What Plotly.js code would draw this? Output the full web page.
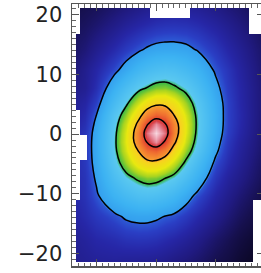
<!DOCTYPE html>
<html><head><meta charset="utf-8">
<script src="https://cdn.plot.ly/plotly-3.0.1.min.js"></script>
<style>html,body{margin:0;padding:0;overflow:hidden;background:#fff}#chart{width:268px;height:273px}</style>
</head><body><div id="chart"></div>
<script>
// grid coordinates
const xVals = [-14,-12,-10,-7,-5,-3,-1.5,0,1.5,3,5,7,10,12,14,18];
const yVals = [-22.3,-17.8,-13.8,-10.3,-7.3,-4.8,-2.8,-1.3,0.2,1.7,3.2,5.2,7.7,10.7,14.2,18.2,21.7];
// surface-brightness level (contour units), rows bottom -> top
const zRow01 = [0.40,0.43,0.45,0.45,0.40,0.38,0.37,0.35,0.31,0.25,0.19,0.11,-0.05,-0.13,-0.25,-0.40];
const zRow02 = [0.45,0.52,0.60,0.66,0.72,0.74,0.73,0.70,0.64,0.58,0.48,0.36,0.15,0.03,-0.10,-0.30];
const zRow03 = [0.55,0.66,0.78,0.93,1.05,1.10,1.10,1.06,0.99,0.94,0.80,0.63,0.40,0.24,0.08,-0.15];
const zRow04 = [0.60,0.73,0.95,1.32,1.50,1.64,1.67,1.63,1.54,1.41,1.16,0.91,0.57,0.39,0.22,-0.05];
const zRow05 = [0.62,0.75,1.05,1.60,1.89,2.07,2.17,2.15,2.02,1.89,1.60,1.26,0.75,0.52,0.36,0.05];
const zRow06 = [0.63,0.78,1.12,1.81,2.22,2.64,2.84,2.85,2.67,2.37,1.93,1.53,0.92,0.65,0.45,0.10];
const zRow07 = [0.63,0.78,1.15,1.90,2.42,3.00,3.50,3.64,3.31,2.78,2.20,1.75,1.07,0.73,0.50,0.15];
const zRow08 = [0.62,0.78,1.15,1.92,2.49,3.28,4.05,4.49,3.93,3.11,2.37,1.84,1.15,0.78,0.54,0.17];
const zRow09 = [0.59,0.76,1.13,1.90,2.47,3.32,4.36,4.85,4.36,3.32,2.47,1.90,1.21,0.84,0.59,0.19];
const zRow10 = [0.54,0.70,1.08,1.84,2.37,3.11,3.93,4.49,4.05,3.28,2.49,1.92,1.24,0.86,0.62,0.20];
const zRow11 = [0.50,0.65,1.00,1.75,2.20,2.78,3.31,3.64,3.50,3.00,2.42,1.90,1.25,0.86,0.63,0.21];
const zRow12 = [0.45,0.57,0.85,1.53,1.93,2.37,2.67,2.85,2.84,2.64,2.22,1.81,1.21,0.86,0.61,0.22];
const zRow13 = [0.36,0.44,0.68,1.26,1.60,1.89,2.02,2.15,2.17,2.07,1.89,1.60,1.10,0.81,0.59,0.22];
const zRow14 = [0.24,0.41,0.59,0.91,1.16,1.41,1.54,1.63,1.67,1.64,1.50,1.32,0.95,0.75,0.54,0.19];
const zRow15 = [0.12,0.24,0.40,0.63,0.80,0.94,1.04,1.10,1.12,1.12,1.08,0.97,0.76,0.59,0.44,0.15];
const zRow16 = [0.05,0.10,0.19,0.36,0.48,0.58,0.64,0.70,0.73,0.74,0.72,0.66,0.52,0.41,0.29,0.06];
const zRow17 = [-0.05,0.00,0.04,0.16,0.24,0.32,0.38,0.42,0.45,0.46,0.45,0.42,0.32,0.23,0.16,-0.02];
const contourLevels = {start:1, end:4, size:1};

// blank (no data) areas of the map
const maskXEdges = [-14.1,-13.5,-12.7,-11.6,-1.0,5.7,15.6,16.3,18.1];
const maskYEdges = [-22.1,-21.4,-20.1,-11.0,-4.4,-0.2,4.0,16.8,19.5,21.1,21.8];
const maskRow01 = [1,1,1,1,1,1,1,1];
const maskRow02 = [1,null,null,null,null,null,null,1];
const maskRow03 = [1,null,null,null,null,null,null,1];
const maskRow04 = [1,1,null,null,null,null,null,null];
const maskRow05 = [1,1,1,null,null,null,null,null];
const maskRow06 = [1,1,null,null,null,null,null,null];
const maskRow07 = [1,null,null,null,null,null,null,null];
const maskRow08 = [1,1,null,null,null,null,1,1];
const maskRow09 = [1,1,null,null,1,null,1,1];
const maskRow10 = [1,1,1,1,1,1,1,1];

const zGrid = [zRow01,zRow02,zRow03,zRow04,zRow05,zRow06,zRow07,zRow08,zRow09,zRow10,zRow11,zRow12,zRow13,zRow14,zRow15,zRow16,zRow17];
const maskGrid = [maskRow01,maskRow02,maskRow03,maskRow04,maskRow05,maskRow06,maskRow07,maskRow08,maskRow09,maskRow10];

const zmin=-0.4, zmax=4.9;
const stops = [[-0.4,'#08051a'],[0.0,'#16104e'],[0.3,'#201a80'],[0.6,'#2626a6'],[0.85,'#2a3ec4'],[0.98,'#2c58d4'],[1.02,'#34a0ee'],[1.3,'#3cb2f2'],[1.9,'#5ac8f0'],[2.0,'#38b848'],[2.25,'#a8d420'],[2.5,'#e8e810'],[2.9,'#f8d020'],[3.0,'#f8a030'],[3.5,'#f07030'],[3.95,'#e04030'],[4.15,'#d84048'],[4.5,'#e890a0'],[4.9,'#fae0e8']];
const cscale = stops.map(s=>[(s[0]-zmin)/(zmax-zmin), s[1]]);

const heat = {type:'heatmap', x:xVals, y:yVals, z:zGrid, zsmooth:'best', colorscale:cscale, zmin:zmin, zmax:zmax, showscale:false, hoverinfo:'skip'};
const lines = {type:'contour', x:xVals, y:yVals, z:zGrid, autocontour:false, contours:Object.assign({coloring:'none'}, contourLevels), line:{color:'#000', width:1.5, smoothing:1.3}, showscale:false, hoverinfo:'skip'};
const mask = {type:'heatmap', x:maskXEdges, y:maskYEdges, z:maskGrid, zsmooth:false, colorscale:[[0,'#ffffff'],[1,'#ffffff']], zmin:0, zmax:1, showscale:false, hoverinfo:'skip'};

const axCommon = {showgrid:false, zeroline:false, showline:true, linecolor:'#555', linewidth:1.5, mirror:'allticks', ticks:'inside', ticklen:7, tickcolor:'#555', tickwidth:1, minor:{ticks:'inside', ticklen:3.5, dtick:1, tickcolor:'#666', tickwidth:1}};
const layout = {
  width:268, height:273, margin:{l:72, r:4, t:4, b:7},
  paper_bgcolor:'#fff', plot_bgcolor:'#fff', showlegend:false,
  xaxis:Object.assign({}, axCommon, {range:[-14.1,18.1], dtick:10, showticklabels:false}),
  yaxis:Object.assign({}, axCommon, {range:[-22.1,21.8], dtick:10, ticklabelstandoff:4, tickfont:{family:'DejaVu Sans, sans-serif', size:21, color:'#222'}})
};
Plotly.newPlot('chart',[heat,lines,mask],layout,{staticPlot:true, displayModeBar:false});
</script></body></html>
